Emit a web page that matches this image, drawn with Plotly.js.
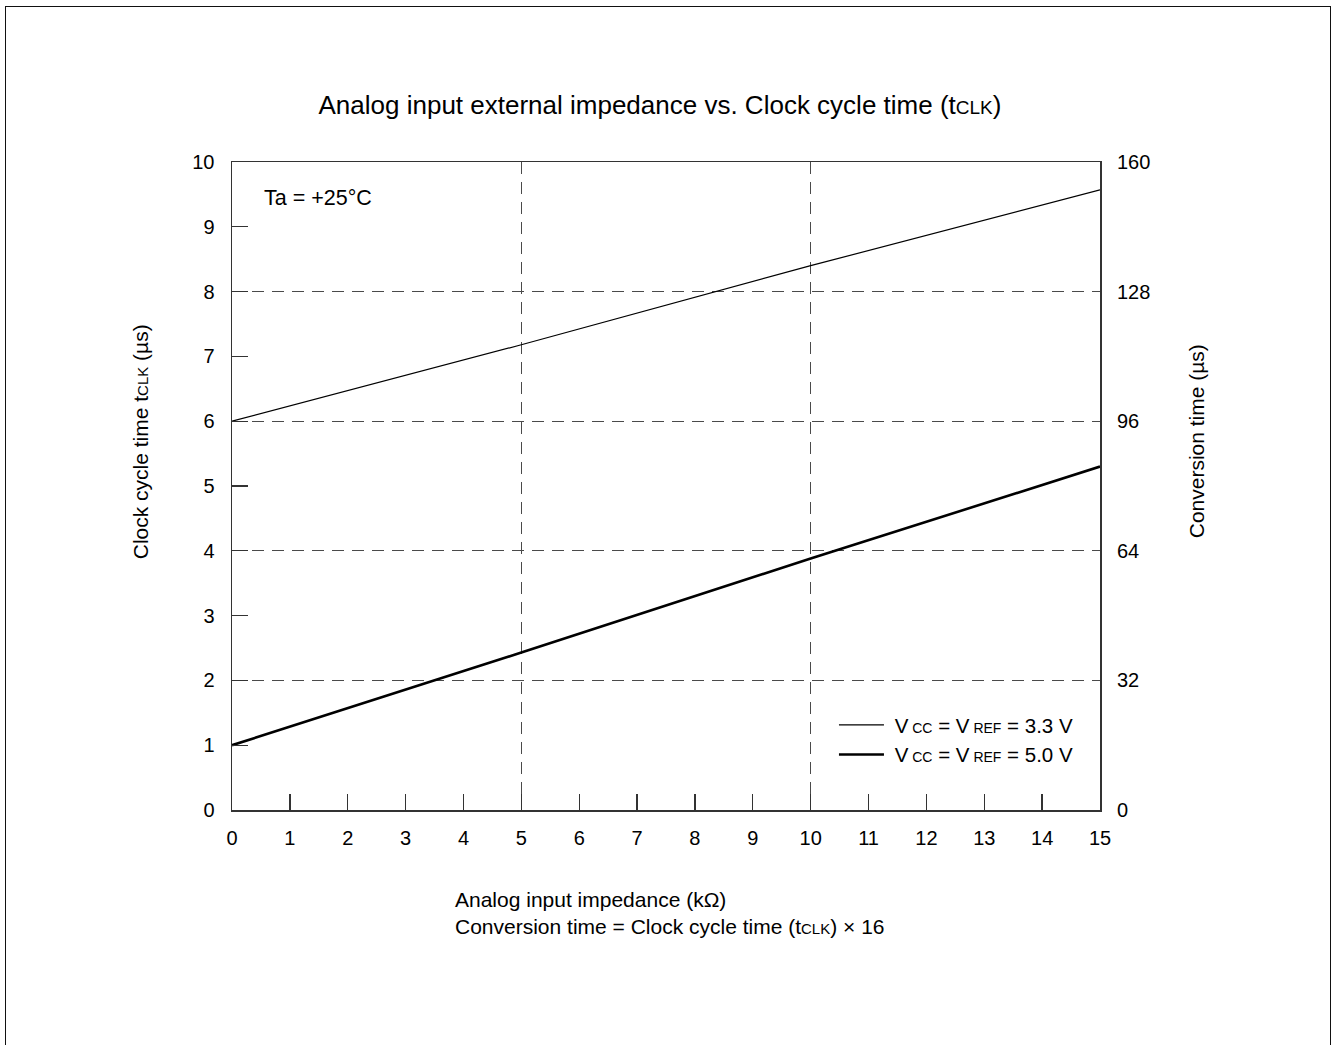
<!DOCTYPE html>
<html>
<head>
<meta charset="utf-8">
<script src="https://cdn.plot.ly/plotly-3.0.1.min.js"></script>
<style>
  html, body { margin:0; padding:0; background:#fff; overflow:hidden; }
  #wrap { position:relative; width:1336px; height:1045px; }
  #chart { width:1336px; height:1045px; }
  #frame { position:absolute; left:5px; top:6px; width:1326px; height:1100px; border:1.5px solid #111; pointer-events:none; box-sizing:border-box; }
</style>
</head>
<body>
<div id="wrap">
  <div id="chart"></div>
  <div id="frame"></div>
</div>
<script>
// Analog input impedance (kΩ)
const impedance = [0, 5, 10, 15];
// Clock cycle time tCLK (µs)
const clk33 = [6.0, 7.18, 8.40, 9.57];  // Vcc = Vref = 3.3 V
const clk50 = [1.0, 2.43, 3.88, 5.30];  // Vcc = Vref = 5.0 V

const seriesNames = [
  "&nbsp;V<span style='font-size:14px'> CC</span> = V<span style='font-size:14px'> REF</span> = 3.3 V",
  "&nbsp;V<span style='font-size:14px'> CC</span> = V<span style='font-size:14px'> REF</span> = 5.0 V"
];
const leftTicks = [0,1,2,3,4,5,6,7,8,9,10];
const rightTicks = [0,32,64,96,128,160];
const xTicks = [0,1,2,3,4,5,6,7,8,9,10,11,12,13,14,15];
const xGrid = [5,10];

const FONT = "Liberation Sans, Arial, Helvetica, sans-serif";
const AX = '#333';
const GRID = '#4a4a4a';

const traces = [
  { x: impedance, y: clk33, mode: 'lines', name: seriesNames[0],
    line: { color: '#000', width: 1.2 }, xaxis: 'x', yaxis: 'y', hoverinfo: 'skip' },
  { x: impedance, y: clk50, mode: 'lines', name: seriesNames[1],
    line: { color: '#000', width: 2.6 }, xaxis: 'x', yaxis: 'y', hoverinfo: 'skip' },
  // invisible carrier so the overlay axes (grid + right scale) are drawn
  { x: impedance, y: clk50, mode: 'lines', showlegend: false,
    line: { color: 'rgba(0,0,0,0)', width: 0 }, xaxis: 'x2', yaxis: 'y2', hoverinfo: 'skip' }
];

const layout = {
  width: 1336, height: 1045,
  paper_bgcolor: '#fff', plot_bgcolor: 'rgba(0,0,0,0)',
  font: { family: FONT, color: '#000', size: 19 },
  margin: { l: 232, r: 236, t: 162, b: 235, pad: 0 },
  showlegend: true,
  title: {
    text: "Analog input external impedance vs. Clock cycle time (t<span style='font-size:19px'>CLK</span>)",
    font: { family: FONT, size: 26, color: '#000' },
    xref: 'container', x: 0.494, xanchor: 'center',
    yref: 'container', y: 0.8995, yanchor: 'middle'
  },
  xaxis: {
    range: [0, 15], tickvals: xTicks, ticktext: xTicks.map(String),
    ticks: 'inside', ticklen: 16, tickwidth: 1.3, tickcolor: AX,
    showline: true, linecolor: AX, linewidth: 1.5, mirror: true,
    showgrid: false, zeroline: false, ticklabelstandoff: 9,
    tickfont: { family: FONT, size: 20, color: '#000' }, fixedrange: true
  },
  yaxis: {
    range: [0, 10], tickvals: leftTicks, ticktext: leftTicks.map(String),
    ticks: 'inside', ticklen: 16, tickwidth: 1.3, tickcolor: AX,
    showline: true, linecolor: AX, linewidth: 1.5, mirror: true,
    showgrid: false, zeroline: false, ticklabelstandoff: 12,
    tickfont: { family: FONT, size: 20, color: '#000' }, fixedrange: true
  },
  xaxis2: {
    overlaying: 'x', anchor: 'y2', range: [0, 15], tickvals: xGrid,
    showticklabels: false, ticks: '', showline: false, zeroline: false,
    showgrid: true, gridcolor: GRID, gridwidth: 1.4, griddash: '12px,8px', fixedrange: true
  },
  yaxis2: {
    overlaying: 'y', anchor: 'x2', side: 'right', range: [0, 160],
    tickvals: rightTicks, ticktext: rightTicks.map(String),
    ticks: '', showline: false, zeroline: false,
    showgrid: true, gridcolor: GRID, gridwidth: 1.4, griddash: '12px,8px',
    ticklabelstandoff: 16,
    tickfont: { family: FONT, size: 20, color: '#000' }, fixedrange: true
  },
  legend: {
    x: 0.6935, xanchor: 'left', y: 0.162, yanchor: 'top',
    bgcolor: 'rgba(0,0,0,0)', borderwidth: 0,
    font: { family: FONT, size: 20.5, color: '#000' },
    itemwidth: 45, tracegroupgap: 0
  },
  annotations: [
    { text: 'Ta = +25°C', xref: 'paper', yref: 'paper', x: 0.0346, y: 0.944,
      xanchor: 'left', yanchor: 'middle', showarrow: false,
      font: { family: FONT, size: 21.5, color: '#000' } },
    { text: "Clock cycle time t<span style='font-size:15px'>CLK</span> (µs)",
      xref: 'paper', yref: 'paper', x: -0.106, y: 0.569, textangle: -90,
      xanchor: 'center', yanchor: 'middle', showarrow: false,
      font: { family: FONT, size: 21, color: '#000' } },
    { text: 'Conversion time (µs)',
      xref: 'paper', yref: 'paper', x: 1.1106, y: 0.569, textangle: -90,
      xanchor: 'center', yanchor: 'middle', showarrow: false,
      font: { family: FONT, size: 21, color: '#000' } },
    { text: "Analog input impedance (kΩ)<br>Conversion time = Clock cycle time (t<span style='font-size:15px'>CLK</span>) × 16",
      xref: 'paper', yref: 'paper', x: 0.255, y: -0.159, align: 'left',
      xanchor: 'left', yanchor: 'middle', showarrow: false,
      font: { family: FONT, size: 21, color: '#000' } }
  ]
};

Plotly.newPlot('chart', traces, layout, { displayModeBar: false, staticPlot: true });
</script>
</body>
</html>
